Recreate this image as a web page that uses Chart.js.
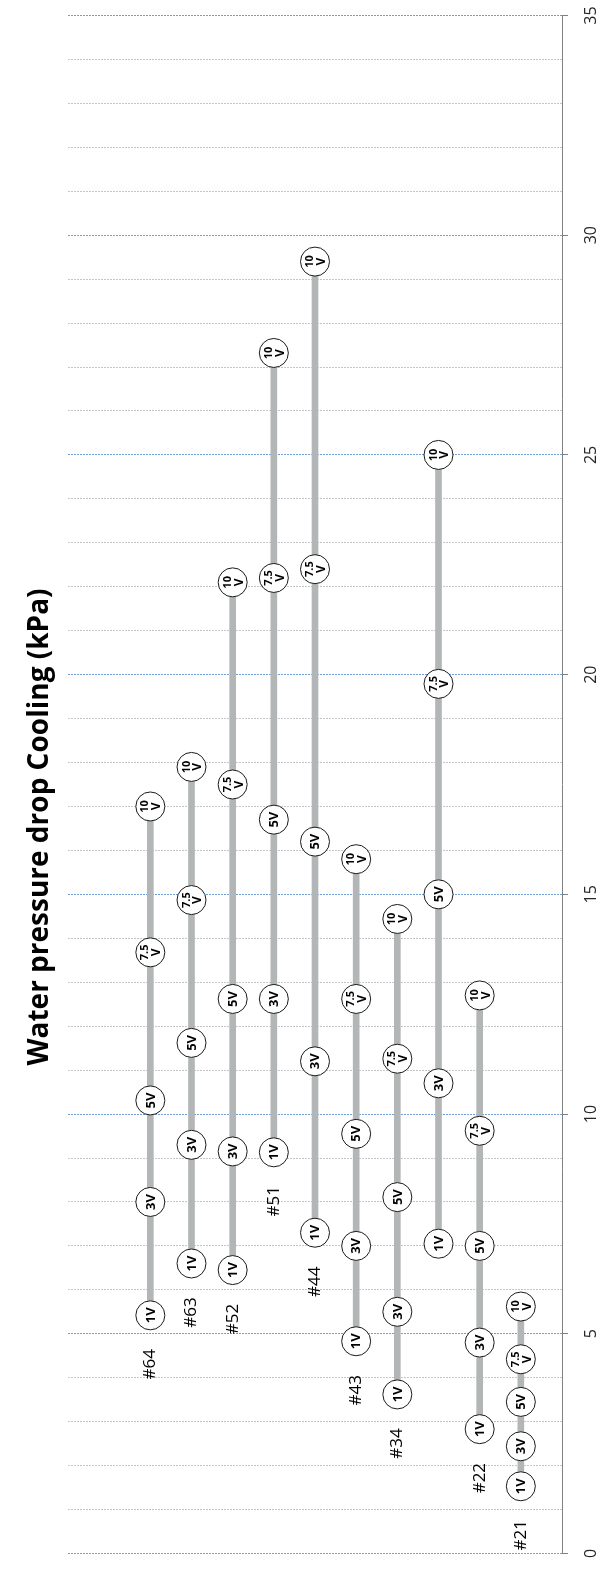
<!DOCTYPE html>
<html>
<head>
<meta charset="utf-8">
<script src="https://cdn.jsdelivr.net/npm/chart.js@4.4.0/dist/chart.umd.min.js"></script>
<style>
  html, body { margin: 0; padding: 0; background: #fff; }
  #wrap { width: 602px; height: 1569px; }
</style>
</head>
<body>
<div id="wrap"><canvas id="chart" width="602" height="1569"></canvas></div>
<script>
// units left to right, one blank label (not printed in the source)
const UNITS = ["#64", "#63", "#52", "#51", "#44", "#43", "#34", "", "#22", "#21"];
const SPEEDS = ["1V", "3V", "5V", "7.5\nV", "10\nV"];

// water pressure drop (kPa) per fan speed
const DROP_1V = [5.42, 6.6, 6.45, 9.13, 7.3, 4.83, 3.62, 7.05, 2.83, 1.53];
const DROP_3V = [8.0, 9.3, 9.15, 12.62, 11.2, 7.0, 5.5, 10.7, 4.8, 2.44];
const DROP_5V = [10.31, 11.62, 12.62, 16.7, 16.2, 9.55, 8.11, 15.0, 7.0, 3.45];
const DROP_7V5 = [13.68, 14.87, 17.5, 22.2, 22.4, 12.62, 11.26, 19.79, 9.62, 4.42];
const DROP_10V = [17.0, 17.9, 22.1, 27.32, 29.4, 15.8, 14.44, 25.0, 12.7, 5.62];

const Y_TICKS = [0, 5, 10, 15, 20, 25, 30, 35];
const TITLE = "Water pressure drop Cooling (kPa)";

const FONT = '"Open Sans", "DejaVu Sans", sans-serif';
const SERIES = [DROP_1V, DROP_3V, DROP_5V, DROP_7V5, DROP_10V];

function rotText(ctx, text, x, y, font, color) {
  ctx.save();
  ctx.translate(x, y);
  ctx.rotate(-Math.PI / 2);
  ctx.font = font;
  ctx.fillStyle = color;
  ctx.textAlign = "center";
  ctx.textBaseline = "middle";
  ctx.fillText(text, 0, 0);
  ctx.restore();
}

const labelsPlugin = {
  id: "rotatedLabels",
  afterDatasetsDraw(chart) {
    const ctx = chart.ctx;
    const yScale = chart.scales.y;

    // speed text inside circles
    SERIES.forEach((_, s) => {
      const meta = chart.getDatasetMeta(s + 1);
      const lines = SPEEDS[s].split("\n");
      meta.data.forEach((pt) => {
        if (lines.length === 1) {
          rotText(ctx, lines[0], pt.x + 0.5, pt.y, `bold 13px ${FONT}`, "#000");
        } else {
          rotText(ctx, lines[0], pt.x - 5, pt.y, `bold 11px ${FONT}`, "#000");
          rotText(ctx, lines[1], pt.x + 6.5, pt.y, `bold 12px ${FONT}`, "#000");
        }
      });
    });

    // unit names under the 1V circle
    const first = chart.getDatasetMeta(1);
    first.data.forEach((pt, i) => {
      if (UNITS[i]) rotText(ctx, UNITS[i], pt.x, pt.y + 49, `17px ${FONT}`, "#000");
    });

    // value axis labels
    Y_TICKS.forEach((v) => {
      rotText(ctx, String(v), 591, yScale.getPixelForValue(v), `16px ${FONT}`, "#262626");
    });

    rotText(ctx, TITLE, 40, 827, `bold 28px ${FONT}`, "#000");
  },
};

const datasets = [
  {
    type: "bar",
    data: UNITS.map((u, i) => ({ x: i, y: [DROP_1V[i], DROP_10V[i]] })),
    backgroundColor: "#b3b6b7",
    barThickness: 6,
    borderWidth: 0,
    order: 10,
  },
  ...SERIES.map((vals) => ({
    type: "scatter",
    data: vals.map((v, i) => ({ x: i, y: v })),
    pointRadius: 14.5,
    pointBackgroundColor: "#fff",
    pointBorderColor: "#1a1a1a",
    pointBorderWidth: 1,
    showLine: false,
    order: 0,
  })),
];

new Chart(document.getElementById("chart"), {
  type: "scatter",
  data: { datasets },
  options: {
    responsive: false,
    animation: false,
    layout: { padding: { left: 68, right: 34, top: 13, bottom: 5 } },
    plugins: { legend: { display: false }, tooltip: { enabled: false }, title: { display: false } },
    scales: {
      x: {
        type: "linear",
        display: false,
        min: -2,
        max: 10,
        offset: false,
        grid: { offset: false },
      },
      y: {
        type: "linear",
        position: "right",
        min: 0,
        max: 35,
        ticks: { stepSize: 1, display: false, autoSkip: false },
        grid: {
          color: (c) => (c.tick && c.tick.value % 5 === 0 ? "#6f9fd8" : "#c6c6c6"),
          lineWidth: 1,
          drawTicks: true,
          tickLength: 6,
          tickColor: (c) => (c.tick && c.tick.value % 5 === 0 ? "#808080" : "rgba(0,0,0,0)"),
          tickBorderDash: [],
        },
        border: { display: true, color: "#808080", width: 1, dash: [2, 1] },
      },
    },
  },
  plugins: [labelsPlugin],
});
</script>
</body>
</html>
